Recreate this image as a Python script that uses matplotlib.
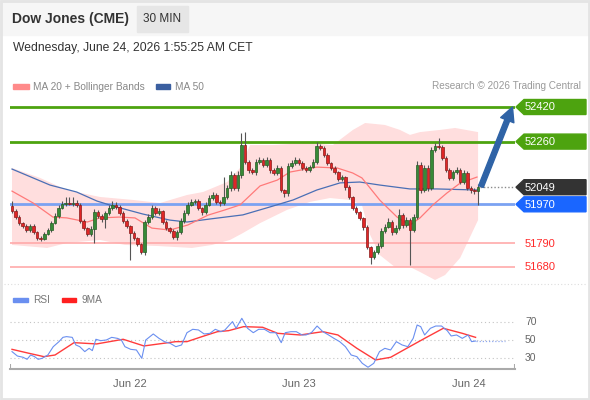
import numpy as np
import matplotlib
matplotlib.use("Agg")
from matplotlib import pyplot as plt
from matplotlib.patches import Polygon, Rectangle, FancyArrowPatch
import matplotlib.transforms as mtransforms

plt.rcParams['font.family'] = ['Liberation Sans', 'DejaVu Sans']

# --- candles (30 min bars), open of each bar = previous close
first_open = 51962
closes = [51939, 51911, 51883, 51870, 51851, 51870, 51842, 51814, 51809, 51833,
          51851, 51883, 51916, 51953, 51971, 51976, 51971, 51976, 51967, 51893,
          51860, 51833, 51856, 51934, 51916, 51902, 51930, 51953, 51967, 51957,
          51930, 51893, 51870, 51837, 51814, 51786, 51749, 51888, 51911, 51953,
          51930, 51939, 51888, 51860, 51846, 51819, 51842, 51893, 51930, 51967,
          51981, 51985, 51953, 51934, 51967, 51999, 52013, 51981, 51976, 52004,
          52045, 52105, 52045, 52105, 52244, 52166, 52129, 52119, 52166, 52175,
          52152, 52175, 52129, 52115, 52138, 52036, 52022, 52147, 52161, 52175,
          52161, 52138, 52129, 52142, 52166, 52240, 52230, 52198, 52161, 52138,
          52119, 52087, 52096, 52050, 52004, 51953, 51934, 51907, 51865, 51772,
          51726, 51749, 51777, 51846, 51865, 51888, 51842, 51860, 51920, 51874,
          51897, 51851, 51911, 52152, 52036, 52138, 52045, 52221, 52240, 52235,
          52184, 52129, 52092, 52119, 52129, 52073, 52115, 52045, 52036, 52031,
          52049]
up_wick = [25, 10, 8, 6, 10, 8, 8, 6, 8, 10,
           8, 10, 12, 14, 15, 28, 28, 28, 12, 8,
           8, 6, 12, 15, 10, 8, 10, 15, 18, 12,
           10, 8, 8, 6, 8, 6, 6, 10, 12, 15,
           10, 12, 6, 8, 6, 8, 10, 12, 12, 15,
           12, 10, 8, 6, 12, 15, 12, 10, 10, 92,
           15, 18, 10, 20, 56, 60, 10, 8, 12, 15,
           10, 12, 8, 10, 12, 8, 6, 15, 12, 15,
           10, 8, 8, 10, 12, 18, 10, 8, 8, 6,
           8, 6, 10, 6, 8, 6, 8, 6, 6, 8,
           6, 10, 12, 15, 12, 18, 10, 12, 28, 10,
           12, 10, 12, 20, 12, 15, 12, 15, 12, 37,
           10, 8, 8, 10, 12, 10, 15, 10, 8, 8,
           15]
dn_wick = [10, 8, 8, 10, 8, 8, 10, 8, 10, 6,
           6, 8, 6, 8, 6, 8, 6, 8, 10, 8,
           10, 8, 10, 65, 10, 12, 42, 8, 8, 10,
           8, 10, 8, 125, 8, 10, 10, 12, 10, 8,
           10, 8, 10, 8, 10, 8, 12, 10, 8, 8,
           6, 8, 10, 12, 8, 6, 8, 10, 12, 8,
           10, 12, 10, 12, 15, 10, 12, 10, 15, 8,
           10, 8, 12, 10, 8, 10, 18, 12, 8, 8,
           10, 8, 10, 8, 6, 8, 10, 8, 10, 8,
           10, 8, 10, 12, 10, 8, 10, 8, 12, 10,
           32, 10, 8, 10, 8, 6, 15, 10, 8, 12,
           10, 162, 10, 8, 12, 10, 12, 8, 10, 8,
           10, 8, 10, 8, 10, 8, 10, 10, 12, 15,
           64]

# --- indicator lines (bar index, value)
ma20_x = [0, 5.9, 11.4, 15.3, 21, 24.5, 30, 34.3, 39, 44, 49, 54.7, 59.4, 63.6,
          69.2, 74, 77.5, 85, 90.7, 95, 97.6, 102.6, 107.4, 111, 113.8, 117.4,
          121.3, 125, 129.7]
ma20_y = [52031, 51976, 51911, 51907, 51888, 51907, 51911, 51907, 51860, 51851,
          51874, 51920, 51944, 51967, 52055, 52082, 52119, 52142, 52138, 52115,
          52092, 51989, 51911, 51874, 51907, 51967, 52022, 52068, 52096]
ma50_x = [0, 10.6, 18, 23.7, 28.2, 36.5, 44, 48.8, 55.2, 64.4, 72, 78.4, 85,
          91.5, 97, 102.6, 111, 118.5, 130]
ma50_y = [52133, 52059, 52027, 51985, 51962, 51925, 51897, 51888, 51902, 51921,
          51958, 51990, 52036, 52069, 52073, 52059, 52041, 52041, 52036]
bb_up_x = [0, 7.8, 15.3, 24.5, 33.8, 41.3, 48.8, 53.3, 60, 63.6, 66.4, 72.8,
           82.3, 89.5, 95.1, 98.5, 104, 108.2, 111, 113.8, 119.4, 123.6, 130]
bb_up = [52138, 52092, 52036, 52004, 51990, 51976, 52013, 52027, 52073, 52138,
         52244, 52244, 52254, 52244, 52314, 52346, 52337, 52314, 52291, 52304,
         52314, 52323, 52304]
bb_lo_x = [0, 9.8, 15.3, 24.5, 31.5, 40.7, 50.2, 55.8, 60.8, 64.4, 69.2, 76.7,
           83.1, 88.7, 94.3, 97.6, 99.9, 102.6, 106.8, 111, 113.8, 118, 120.8,
           125, 130]
bb_lo = [51782, 51768, 51791, 51805, 51782, 51777, 51768, 51782, 51805, 51837,
         51883, 51944, 51981, 51999, 51990, 51967, 51828, 51735, 51680, 51680,
         51657, 51620, 51643, 51722, 51897]

# --- RSI panel
rsi_x = [0, 1.5, 3.1, 4.2, 5.2, 6.3, 7.3, 8.4, 10, 11.5, 13.1, 14.2, 15.2, 16.8,
         17.8, 18.9, 20.3, 21.5, 22.4, 23.4, 24.7, 26.3, 27.8, 29.4, 30.5, 31.5,
         33.1, 34.7, 36.2, 37.3, 39.4, 41, 42.5, 44.1, 45.7, 47.3, 48.8, 50.4,
         52, 53.6, 55.2, 56.7, 58.3, 59.4, 61.5, 62.5, 64.1, 65.7, 67.3, 68.8,
         70.4, 72, 73.6, 75.1, 76.2, 77.8, 79.3, 80.9, 82, 83.5, 85.1, 86.7,
         88.3, 89.8, 91.4, 93, 94.6, 96.2, 97.7, 99.3, 100.9, 102.5, 104, 105.6,
         107.2, 108.8, 110.4, 111.9, 113, 114, 115.1, 116.7, 118.2, 119.8, 121.4,
         122.5, 124, 125.6, 127.2, 128.2, 129.3]
rsi_y = [37.3, 32.5, 31.1, 28.9, 33.6, 31.8, 28.9, 30.0, 33.6, 42.7, 48.2, 52.9,
         53.7, 52.9, 44.6, 42.7, 37.3, 40.9, 38.4, 50.8, 49.3, 50.0, 52.9, 51.8,
         50.0, 42.7, 39.8, 39.1, 30.0, 50.0, 56.6, 51.8, 48.2, 46.4, 42.7, 44.6,
         58.0, 61.7, 61.0, 56.6, 57.3, 61.7, 59.1, 61.0, 70.1, 62.8, 73.7, 62.8,
         58.0, 61.7, 61.7, 58.0, 58.0, 47.1, 58.0, 59.1, 59.1, 55.5, 55.5, 58.0,
         65.3, 59.1, 55.5, 51.8, 48.2, 42.7, 33.6, 31.8, 24.5, 20.2, 24.5, 37.3,
         40.9, 39.1, 48.2, 44.6, 42.7, 51.8, 66.4, 64.6, 55.5, 62.8, 65.3, 65.3,
         60.2, 54.4, 55.5, 51.8, 55.5, 48.2, 48.9]
rsi_ma_x = [0, 4.7, 8.9, 12, 17.3, 23.6, 31, 36.8, 45.7, 48.8, 53, 57.3, 60.4,
            64.6, 69.9, 74.1, 80.4, 86.7, 90.9, 96.2, 101.4, 105.6, 110.9, 115.1,
            120.3, 125.6, 129.3]
rsi_ma_y = [39.8, 35.5, 31.8, 33.6, 47.1, 45.7, 50.8, 43.5, 48.2, 48.2, 53.7, 59.1,
            60.2, 64.6, 63.9, 57.3, 55.5, 59.1, 55.5, 40.9, 28.2, 31.1, 42.7, 51.8,
            62.8, 57.3, 52.9]
rsi_last = 49

day_ticks = [32.9, 80.1, 127.5]
day_labels = ['Jun 22', 'Jun 23', 'Jun 24']

resist = [52420, 52260]
pivot = 51970
support = [51790, 51680]
last_price = 52049
target = 52420

W, H = 590, 400
fig = plt.figure(figsize=(W / 100, H / 100), dpi=100)
fig.patch.set_facecolor('white')


def frect(x0, y0, x1, y1):
    return [x0 / W, 1 - y1 / H, (x1 - x0) / W, (y1 - y0) / H]


bg = fig.add_axes([0, 0, 1, 1], zorder=-1)
bg.set_xlim(0, W)
bg.set_ylim(H, 0)
bg.axis('off')

xlo, xhi = -0.56, 140.3
ax = fig.add_axes(frect(10, 95, 515, 283))
ax.set_xlim(xlo, xhi)
ax.set_ylim(51606, 52475.5)
ax.axis('off')

rax = fig.add_axes(frect(10, 310, 515, 369))
rax.set_xlim(xlo, xhi)
rax.set_ylim(18.3, 82.8)
rax.patch.set_visible(False)

# header
bg.add_patch(Rectangle((0, 0), W, 35, color='#f6f6f6', zorder=0))
bg.add_patch(Rectangle((1, 1), W - 2, H - 2, fill=False, ec='#e4e4e4', lw=2, zorder=1))
bg.text(12, 19, 'Dow Jones (CME)', fontsize=10, fontweight='bold', color='#333333', va='center')
bg.add_patch(Rectangle((137, 6), 51, 26, color='#e6e6e6', zorder=1))
bg.text(162.5, 19, '30 MIN', fontsize=8.5, color='#333333', va='center', ha='center', zorder=2)
bg.text(13, 48, 'Wednesday, June 24, 2026 1:55:25 AM CET', fontsize=8.7, color='#333333', va='center')

# legends
bg.add_patch(Rectangle((13, 84), 16, 5, color='#ff8a8a', zorder=1))
bg.text(33, 86.5, 'MA 20 + Bollinger Bands', fontsize=7.25, color='#888888', va='center')
bg.add_patch(Rectangle((156, 84), 14, 5, color='#3b5fa0', zorder=1))
bg.text(175, 86.5, 'MA 50', fontsize=7.25, color='#888888', va='center')
bg.text(581, 86, 'Research \u00a9 2026 Trading Central', fontsize=7.2, color='#9a9a9a',
        va='center', ha='right')
bg.plot([4, 586], [283.5, 283.5], ls=(0, (1, 2)), color='#dddddd', lw=0.8)

bg.add_patch(Rectangle((13, 298), 15, 4, color='#6a8ff0', zorder=1))
bg.text(33, 300, 'RSI', fontsize=7.25, color='#777777', va='center')
bg.add_patch(Rectangle((62, 298), 14, 4, color='#ff2020', zorder=1))
bg.text(81, 300, '9MA', fontsize=7.25, color='#777777', va='center')

# price panel
ax.fill(np.concatenate([bb_up_x, bb_lo_x[::-1]]), np.concatenate([bb_up, bb_lo[::-1]]),
        color='#ffdede', lw=0, zorder=1)
for lv in resist:
    ax.axhline(lv, color='#4da30f', lw=2, zorder=2)
ax.axhline(pivot, color='#7ba2f2', lw=2, zorder=2)
for lv in support:
    ax.axhline(lv, color='#ffaaaa', lw=1.2, zorder=2)
ax.plot(ma50_x, ma50_y, color='#4a6fb5', lw=0.9, zorder=3)
ax.plot(ma20_x, ma20_y, color='#ff7a7a', lw=0.9, zorder=3)

opens = [first_open] + closes[:-1]
idx = np.arange(len(closes))
for i, o, c, u, d in zip(idx, opens, closes, up_wick, dn_wick):
    hi = max(o, c) + u
    lo = min(o, c) - d
    up = c >= o
    ax.vlines(i, lo, hi, color='#555555', lw=0.8, zorder=4)
    ax.bar(i, max(abs(c - o), 3), bottom=min(o, c), width=0.72,
           color='#378a37' if up else '#e02626',
           edgecolor='#245c24' if up else '#8a1a1a', lw=0.5, zorder=5)

ax.plot([idx[-1] + 0.5, xhi], [last_price, last_price], ls=(0, (1, 1.5)), color='#8a8a8a',
        lw=1, zorder=3)
arrow = FancyArrowPatch((idx[-1] + 0.8, last_price + 3), (139.6, target),
                        arrowstyle='simple,head_width=0.85,head_length=0.85,tail_width=0.3',
                        mutation_scale=12, color='#2f63a6', shrinkA=0, shrinkB=0,
                        clip_on=False, zorder=6)
ax.add_patch(arrow)

# level tags on the right


def level_y(v):
    return H - ax.transData.transform((0, v))[1]


tags = [(52420, '#4da30f'), (52260, '#4da30f'), (last_price, '#333333'), (pivot, '#1a66ff')]
for lv, col in tags:
    y = level_y(lv)
    bg.add_patch(Polygon([(516, y), (524, y - 7.5), (586, y - 7.5), (586, y + 7.5), (524, y + 7.5)],
                         closed=True, color=col, zorder=2))
    bg.text(525, y + 0.5, str(lv), fontsize=8, color='white', va='center', zorder=3)
for lv in support:
    bg.text(525, level_y(lv) + 0.5, str(lv), fontsize=8, color='#ff2a2a', va='center')

# RSI panel
for v in (30, 50, 70):
    rax.axhline(v, color='#c4c4c4', ls=(0, (1, 2.5)), lw=0.8)
    rax.text(1.0198, v, str(v), transform=mtransforms.blended_transform_factory(rax.transAxes, rax.transData),
             fontsize=7.5, color='#666666', va='center')
rax.plot(rsi_ma_x, rsi_ma_y, color='#ff3b3b', lw=1.0, zorder=3)
rax.plot(rsi_x, rsi_y, color='#6a8ff0', lw=0.8, zorder=4)
rax.plot([rsi_x[-1], 137.5], [rsi_last, rsi_last], ls=(0, (1, 1.5)), color='#8fa8f0', lw=0.9)

for s in ('top', 'left', 'right'):
    rax.spines[s].set_visible(False)
rax.spines['bottom'].set_color('#aaaaaa')
rax.spines['bottom'].set_linewidth(1.5)
rax.vlines([0, 1], 0, 0.09, transform=rax.transAxes, color='#aaaaaa', lw=1.5)
rax.set_yticks([])
rax.set_xticks(day_ticks, day_labels)
rax.tick_params(axis='x', length=0, pad=7.5, labelsize=8, labelcolor='#666666')

fig.savefig('out.png', dpi=100)
